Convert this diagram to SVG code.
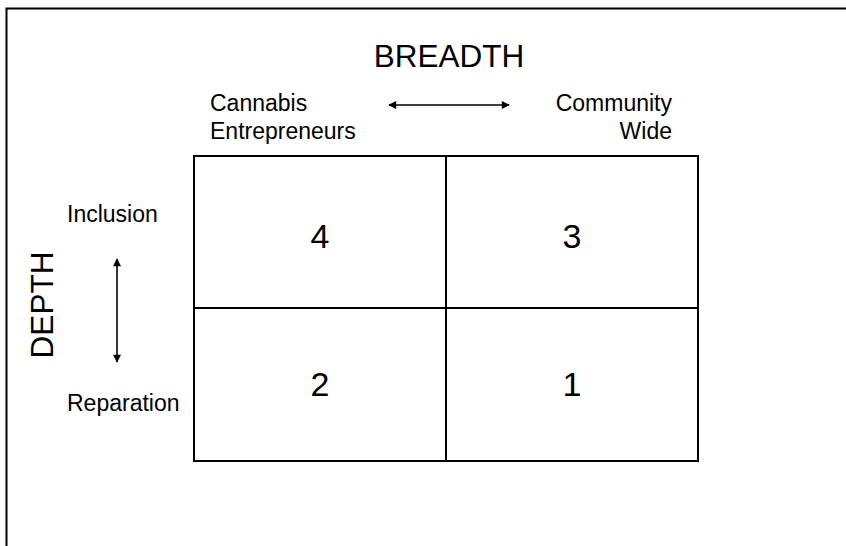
<svg xmlns="http://www.w3.org/2000/svg" width="846" height="546" viewBox="0 0 846 546">
<style>
.t{font-family:"Liberation Sans",Arial,sans-serif;fill:#000}
.lbl{font-size:23px}
.big{font-size:31.5px}
.num{font-size:34px}
.ln{stroke:#000;stroke-width:2;fill:none}
.ar{stroke:#000;stroke-width:1.6;fill:none}
</style>
<defs>
<marker id="ah" viewBox="0 0 10 10" refX="9" refY="5" markerWidth="11" markerHeight="8" markerUnits="userSpaceOnUse" orient="auto-start-reverse">
<path d="M0,0 L10,5 L0,10 z" fill="#000"/>
</marker>
</defs>
<rect x="0" y="0" width="846" height="546" fill="#fff"/>
<rect class="ln" x="6.5" y="8.5" width="860" height="560"/>
<g id="titles">
<text class="t big" x="449" y="67" text-anchor="middle">BREADTH</text>
<text class="t big" transform="translate(53,305) rotate(-90)" text-anchor="middle">DEPTH</text>
</g>
<g id="axis-labels">
<text class="t lbl" x="210" y="111">Cannabis</text>
<text class="t lbl" x="210" y="139">Entrepreneurs</text>
<text class="t lbl" x="672" y="111" text-anchor="end">Community</text>
<text class="t lbl" x="672" y="139" text-anchor="end">Wide</text>
<text class="t lbl" x="67" y="222">Inclusion</text>
<text class="t lbl" x="67" y="411">Reparation</text>
</g>
<g id="connectors">
<line class="ar" x1="389" y1="105" x2="509" y2="105" marker-start="url(#ah)" marker-end="url(#ah)"/>
<line class="ar" x1="117" y1="259" x2="117" y2="362" marker-start="url(#ah)" marker-end="url(#ah)"/>
</g>
<g id="cell4"><rect class="ln" x="194" y="156" width="252" height="152"/><text class="t num" x="320" y="248" text-anchor="middle">4</text></g>
<g id="cell3"><rect class="ln" x="446" y="156" width="252" height="152"/><text class="t num" x="572" y="248" text-anchor="middle">3</text></g>
<g id="cell2"><rect class="ln" x="194" y="308" width="252" height="153"/><text class="t num" x="320" y="396" text-anchor="middle">2</text></g>
<g id="cell1"><rect class="ln" x="446" y="308" width="252" height="153"/><text class="t num" x="572" y="396" text-anchor="middle">1</text></g>
</svg>
